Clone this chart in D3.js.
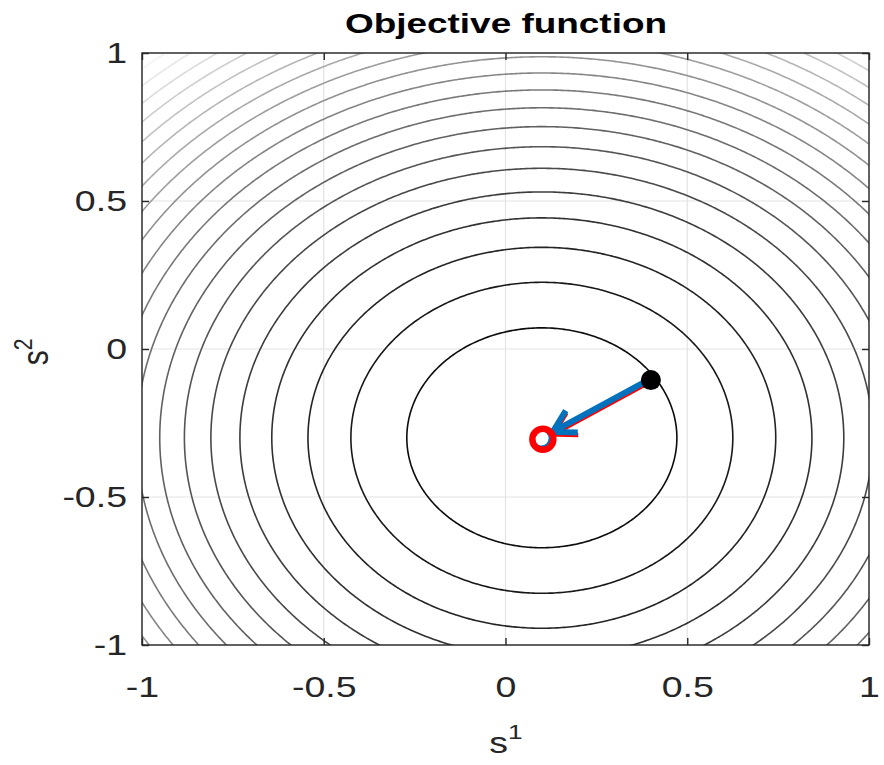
<!DOCTYPE html>
<html>
<head>
<meta charset="utf-8">
<script src="https://cdn.jsdelivr.net/npm/d3@7"></script>
<style>
  html, body { margin: 0; padding: 0; background: #fff; }
  svg { display: block; }
  text { font-family: "Liberation Sans", Arial, Helvetica, sans-serif; }
</style>
</head>
<body>
<svg id="chart" width="884" height="765"></svg>
<script>
// ---- data ----
const xTicks = [-1, -0.5, 0, 0.5, 1];
const yTicks = [-1, -0.5, 0, 0.5, 1];
const xTickLabels = ["-1", "-0.5", "0", "0.5", "1"];
const yTickLabels = ["-1", "-0.5", "0", "0.5", "1"];
const center = [0.1, -0.3];          // minimum of the objective
const startPoint = [0.4, -0.1];      // current iterate (black dot)
const arrowTip = [0.13, -0.28];      // quiver tip (scaled step)
const levels = [0.138, 0.276, 0.414, 0.552, 0.690, 0.829, 0.967, 1.105, 1.243, 1.381,
                1.519, 1.657, 1.795, 1.933, 2.071, 2.210, 2.348, 2.486, 2.624, 2.762];
const colorRange = [0, 2.9];         // gray colormap limits (min..max of f)

// ---- layout ----
const svg = d3.select("#chart");
const L = 142, T = 53, R = 869, B = 645;
const SX = 1.25;                     // horizontal stretch of the original figure's text
const x = d3.scaleLinear().domain([-1, 1]).range([L, R]);
const y = d3.scaleLinear().domain([-1, 1]).range([B, T]);

svg.append("defs").append("clipPath").attr("id", "clip")
  .append("rect").attr("x", L).attr("y", T).attr("width", R - L).attr("height", B - T);

// grid
const grid = svg.append("g");
grid.selectAll(".gx").data(xTicks).join("line")
  .attr("x1", d => x(d)).attr("x2", d => x(d)).attr("y1", T).attr("y2", B)
  .attr("stroke", "#e3e3e3").attr("stroke-width", 1.2);
grid.selectAll(".gy").data(yTicks).join("line")
  .attr("y1", d => y(d)).attr("y2", d => y(d)).attr("x1", L).attr("x2", R)
  .attr("stroke", "#e3e3e3").attr("stroke-width", 1.2);

// contour field
const n = 320, g0 = -1.05, g1 = 1.05, step = (g1 - g0) / (n - 1);
const values = new Float64Array(n * n);
for (let j = 0; j < n; j++) {
  const sv = g0 + j * step;
  for (let i = 0; i < n; i++) {
    const su = g0 + i * step;
    values[j * n + i] = (su - center[0]) ** 2 + (sv - center[1]) ** 2;
  }
}
const contours = d3.contours().size([n, n]).thresholds(levels)(values);
const proj = d3.geoTransform({
  point: function (px, py) {
    this.stream.point(x(g0 + (px - 0.5) * step), y(g0 + (py - 0.5) * step));
  }
});
const path = d3.geoPath(proj);
const gray = d3.scaleLinear().domain(colorRange).range(["#000000", "#ffffff"]);
svg.append("g").attr("clip-path", "url(#clip)")
  .selectAll("path").data(contours).join("path")
  .attr("d", path)
  .attr("fill", "none")
  .attr("stroke", d => gray(d.value))
  .attr("stroke-width", 1.6);

// axes box
svg.append("rect").attr("x", L).attr("y", T).attr("width", R - L).attr("height", B - T)
  .attr("fill", "none").attr("stroke", "#262626").attr("stroke-width", 1.4);

// ticks (inward) on all four sides
const tickLen = 7;
const axB = d3.axisBottom(x).tickValues(xTicks).tickFormat((d, i) => xTickLabels[i])
  .tickSizeInner(-tickLen).tickSizeOuter(0).tickPadding(30.5);
const axL = d3.axisLeft(y).tickValues(yTicks).tickFormat((d, i) => yTickLabels[i])
  .tickSizeInner(-tickLen).tickSizeOuter(0).tickPadding(15);
const axT = d3.axisTop(x).tickValues(xTicks).tickFormat("").tickSizeInner(-tickLen).tickSizeOuter(0);
const axR = d3.axisRight(y).tickValues(yTicks).tickFormat("").tickSizeInner(-tickLen).tickSizeOuter(0);

function style(g) {
  g.select(".domain").remove();
  g.selectAll(".tick line").attr("stroke", "#262626").attr("stroke-width", 1.4);
  g.selectAll(".tick text").attr("fill", "#262626")
    .style("font-size", "30px").style("font-family", "'Liberation Sans', Arial, sans-serif")
    .each(function () {
      const w = this.getComputedTextLength();
      if (w > 0) d3.select(this).attr("textLength", w * SX).attr("lengthAdjust", "spacingAndGlyphs");
    });
}
svg.append("g").attr("transform", `translate(0,${B})`).call(axB).call(style);
svg.append("g").attr("transform", `translate(${L},0)`).call(axL).call(style);
svg.append("g").attr("transform", `translate(0,${T})`).call(axT).call(style);
svg.append("g").attr("transform", `translate(${R},0)`).call(axR).call(style);

// quiver arrow (red underneath, blue on top)
function arrow(g, color, dx, dy, w) {
  const x0 = x(startPoint[0]) + dx, y0 = y(startPoint[1]) + dy;
  const x1 = x(arrowTip[0]) + dx, y1 = y(arrowTip[1]) + dy;
  const ang = Math.atan2(y0 - y1, x0 - x1);
  const hl = 25, ha = Math.PI / 6;
  const p = d3.path();
  p.moveTo(x0, y0); p.lineTo(x1, y1);
  p.moveTo(x1 + hl * Math.cos(ang + ha), y1 + hl * Math.sin(ang + ha));
  p.lineTo(x1, y1);
  p.lineTo(x1 + hl * Math.cos(ang - ha), y1 + hl * Math.sin(ang - ha));
  g.append("path").attr("d", p.toString()).attr("fill", "none")
    .attr("stroke", color).attr("stroke-width", w)
    .attr("stroke-linejoin", "miter").attr("stroke-linecap", "butt");
}
const mk = svg.append("g");
arrow(mk, "#ff0000", 0.5, 2.4, 4.5);
arrow(mk, "#0072BD", 0, 0, 6);

// current point
mk.append("circle").attr("cx", x(startPoint[0])).attr("cy", y(startPoint[1]) + 1.5)
  .attr("r", 10).attr("fill", "#000");

// optimum markers
mk.append("circle").attr("cx", x(center[0]) - 0.5).attr("cy", y(center[1]) + 0.5)
  .attr("r", 8.5).attr("fill", "none").attr("stroke", "#0072BD").attr("stroke-width", 2.5);
mk.append("circle").attr("cx", x(center[0]) + 1).attr("cy", y(center[1]) + 1.5)
  .attr("r", 10.5).attr("fill", "none").attr("stroke", "#ff0000").attr("stroke-width", 6.5);

// title
svg.append("text").attr("x", 506).attr("y", 33).attr("text-anchor", "middle")
  .attr("font-weight", "bold").style("font-size", "28px").attr("fill", "#000")
  .attr("textLength", 322).attr("lengthAdjust", "spacingAndGlyphs")
  .text("Objective function");

// axis labels
const xl = svg.append("g").attr("transform", `translate(506,753) scale(${SX},1)`)
  .append("text").attr("text-anchor", "middle")
  .style("font-size", "30px").attr("fill", "#262626");
xl.append("tspan").text("s");
xl.append("tspan").attr("dy", -14).style("font-size", "21px").text("1");

const yl = svg.append("g").attr("transform", `translate(48,${352}) scale(${SX},1) rotate(-90)`)
  .append("text").attr("text-anchor", "middle")
  .style("font-size", "30px").attr("fill", "#262626");
yl.append("tspan").text("s");
yl.append("tspan").attr("dy", -13).style("font-size", "21px").text("2");
</script>
</body>
</html>
